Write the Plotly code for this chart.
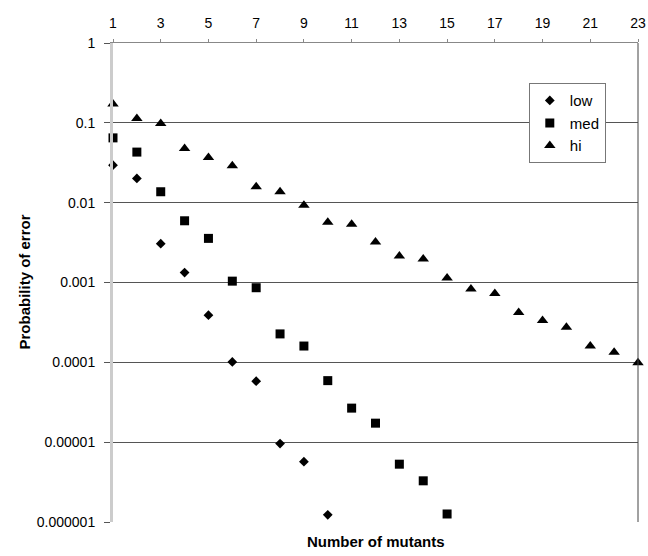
import plotly.graph_objects as go

mutants = list(range(1, 24))

low = [0.0295, 0.0201, 0.00306, 0.00133, 0.00039, 0.000101, 0.000058,
       0.0000096, 0.0000057, 0.00000123]
med = [0.0648, 0.043, 0.0137, 0.00593, 0.00357, 0.00104, 0.00086, 0.000227,
       0.00016, 0.000059, 0.0000267, 0.0000173, 0.0000053, 0.00000328,
       0.00000126]
hi = [0.1726, 0.113, 0.098, 0.0477, 0.0368, 0.0289, 0.0158, 0.0137, 0.0093,
      0.0057, 0.00535, 0.00321, 0.00214, 0.00197, 0.00114, 0.00083, 0.00073,
      0.00042, 0.000333, 0.000275, 0.00016, 0.000134, 0.000099]

x_ticks = list(range(1, 24, 2))
y_ticks = [1, 0.1, 0.01, 0.001, 0.0001, 0.00001, 0.000001]
y_labels = ["1", "0.1", "0.01", "0.001", "0.0001", "0.00001", "0.000001"]

FONT = "Arial, Liberation Sans, sans-serif"

fig = go.Figure()
fig.add_trace(go.Scatter(x=mutants[:len(low)], y=low, mode="markers", name="low",
                         marker=dict(symbol="diamond", size=7.5, color="black"),
                         cliponaxis=False))
fig.add_trace(go.Scatter(x=mutants[:len(med)], y=med, mode="markers", name="med",
                         marker=dict(symbol="square", size=9, color="black"),
                         cliponaxis=False))
fig.add_trace(go.Scatter(x=mutants[:len(hi)], y=hi, mode="markers", name="hi",
                         marker=dict(symbol="triangle-up", size=10, color="black"),
                         cliponaxis=False))

fig.update_layout(
    width=648, height=556, autosize=False,
    margin=dict(l=113, r=10, t=43, b=34),
    paper_bgcolor="white", plot_bgcolor="white",
    font=dict(family=FONT, size=14, color="black"),
    showlegend=True,
    legend=dict(x=0.792, y=0.916, xanchor="left", yanchor="top",
                bordercolor="#777", borderwidth=1, bgcolor="white",
                font=dict(size=15), itemwidth=30, tracegroupgap=0),
    xaxis=dict(side="top", range=[1, 23], tickvals=x_ticks, automargin=False,
               ticks="outside", ticklen=3, tickcolor="#888",
               showline=True, linecolor="#888", linewidth=1,
               showgrid=False, zeroline=False, ticklabelstandoff=5),
    yaxis=dict(type="log", range=[-6, 0], tickvals=y_ticks, ticktext=y_labels,
               automargin=False,
               ticks="outside", ticklen=6, tickcolor="#555",
               showline=True, linecolor="#cccccc", linewidth=3,
               showgrid=True, gridcolor="#555", gridwidth=1,
               zeroline=False, ticklabelstandoff=6),
    shapes=[dict(type="line", xref="paper", yref="paper", x0=1, x1=1, y0=0, y1=1,
                 line=dict(color="#444", width=1))],
    annotations=[
        dict(text="<b>Number of mutants</b>", xref="paper", yref="paper",
             x=0.5, y=0, xanchor="center", yanchor="middle", yshift=-19,
             showarrow=False, font=dict(size=15)),
        dict(text="<b>Probability of error</b>", xref="paper", yref="paper",
             x=0, y=0.5, xanchor="center", yanchor="middle", xshift=-89,
             textangle=-90, showarrow=False, font=dict(size=15)),
    ],
)

fig.write_html(
    "out.html",
    config={"displayModeBar": False, "responsive": False},
    post_script="document.body.style.margin='0';",
)
